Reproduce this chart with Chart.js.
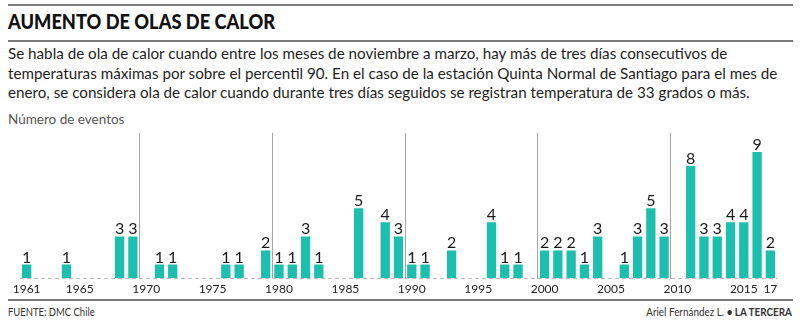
<!DOCTYPE html>
<html>
<head>
<meta charset="utf-8">
<script src="https://cdn.jsdelivr.net/npm/chart.js@4.4.1/dist/chart.umd.min.js"></script>
<style>
  body { margin: 0; background: #fff; }
  #wrap { position: relative; width: 800px; height: 322px; overflow: hidden; font-family: Lato, sans-serif; color: #1e1e1e; }
  .rule { position: absolute; left: 8px; width: 785px; height: 2px; background: #7a7a7a; }
  .txt { position: absolute; white-space: nowrap; }
  #title { left: 8px; top: 8px; font-size: 21px; font-weight: 900; color: #111; transform-origin: left top; }
  #desc { left: 8px; top: 44px; font-size: 15.2px; line-height: 19.5px; }
  #ylab { left: 8px; top: 111px; font-size: 13.5px; color: #555; }
  #src { left: 8px; top: 305px; font-size: 11px; color: #333; transform: scaleX(0.86); transform-origin: left top; }
  #cred { right: 8px; top: 305px; font-size: 11px; color: #333; transform: scaleX(0.9); transform-origin: right top; }
  #box { position: absolute; left: 0; top: 128px; width: 800px; height: 175px; }
</style>
</head>
<body>
<div id="wrap">
  <div class="rule" style="top:4px"></div>
  <div class="txt" id="title">AUMENTO DE OLAS DE CALOR</div>
  <div class="rule" style="top:40px"></div>
  <div class="txt" id="desc">Se habla de ola de calor cuando entre los meses de noviembre a marzo, hay más de tres días consecutivos de<br>temperaturas máximas por sobre el percentil 90. En el caso de la estación Quinta Normal de Santiago para el mes de<br>enero, se considera ola de calor cuando durante tres días seguidos se registran temperatura de 33 grados o más.</div>
  <div class="txt" id="ylab">Número de eventos</div>
  <div id="box"><canvas id="chart"></canvas></div>
  <div class="rule" style="top:299px"></div>
  <div class="txt" id="src">FUENTE: DMC Chile</div>
  <div class="txt" id="cred">Ariel Fernández L. <b>• LA TERCERA</b></div>
</div>
<script>
// years with heat waves and number of events
var eventYears = [1961, 1964, 1968, 1969, 1971, 1972, 1976, 1977, 1979, 1980, 1981, 1982, 1983,
                  1986, 1988, 1989, 1990, 1991, 1993, 1996, 1997, 1998, 2000, 2001, 2002, 2003, 2004,
                  2006, 2007, 2008, 2009, 2011, 2012, 2013, 2014, 2015, 2016, 2017];
var eventCounts = [1, 1, 3, 3, 1, 1, 1, 1, 2, 1, 1, 3, 1,
                   5, 4, 3, 1, 1, 2, 4, 1, 1, 2, 2, 2, 1, 3,
                   1, 3, 5, 3, 8, 3, 3, 4, 4, 9, 2];

// tick labels shown under the axis
var tickYears = [1961, 1965, 1970, 1975, 1980, 1985, 1990, 1995, 2000, 2005, 2010, 2015, 2017];
var tickTexts = ["1961", "1965", "1970", "1975", "1980", "1985", "1990", "1995", "2000", "2005", "2010", "2015", "17"];

// squeeze the heavy title to the width it has in print
var title = document.getElementById("title");
title.style.transform = "scaleX(" + (267 / title.getBoundingClientRect().width) + ")";

var years = [];
for (var y = 1961; y <= 2017; y++) years.push(y);
var values = years.map(function (yr) {
    var i = eventYears.indexOf(yr);
    return i >= 0 ? eventCounts[i] : null;
});

// numbers over bars
var valueLabels = {
    id: "valueLabels",
    afterDatasetsDraw: function (chart) {
        var ctx = chart.ctx;
        var meta = chart.getDatasetMeta(0);
        ctx.save();
        ctx.font = "16px Lato";
        ctx.fillStyle = "#1a1a1a";
        ctx.textAlign = "center";
        ctx.textBaseline = "alphabetic";
        meta.data.forEach(function (bar, i) {
            var v = values[i];
            if (v) ctx.fillText(v, bar.x, bar.y - 2);
        });
        ctx.restore();
    }
};

var chart1 = new Chart(document.getElementById("chart"), {
    type: "bar",
    data: {
        labels: years,
        datasets: [{
            data: values,
            backgroundColor: "#1cbfae",
            barPercentage: 0.7,
            categoryPercentage: 1.0
        }]
    },
    options: {
        responsive: true,
        maintainAspectRatio: false,
        animation: false,
        layout: { padding: { left: 20, right: 23, top: 5, bottom: 4 } },
        plugins: { legend: { display: false }, tooltip: { enabled: false } },
        scales: {
            x: {
                grid: {
                    offset: true,
                    drawTicks: false,
                    color: function (c) {
                        var yr = years[c.index];
                        return yr && yr % 10 === 0 ? "#a5a5a5" : "rgba(0,0,0,0)";
                    }
                },
                border: { display: false },
                ticks: {
                    autoSkip: false,
                    maxRotation: 0,
                    padding: 3,
                    color: "#222",
                    font: { family: "Lato", size: 12 },
                    callback: function (val, i) {
                        var k = tickYears.indexOf(years[i]);
                        return k >= 0 ? tickTexts[k] : "";
                    }
                }
            },
            y: {
                min: 0,
                max: 10.35,
                ticks: { display: false },
                border: { display: false, dash: [4, 3] },
                grid: {
                    drawTicks: false,
                    color: function (c) {
                        return c.tick && c.tick.value === 0 ? "#bdbdbd" : "rgba(0,0,0,0)";
                    }
                }
            }
        }
    },
    plugins: [valueLabels]
});
</script>
</body>
</html>
